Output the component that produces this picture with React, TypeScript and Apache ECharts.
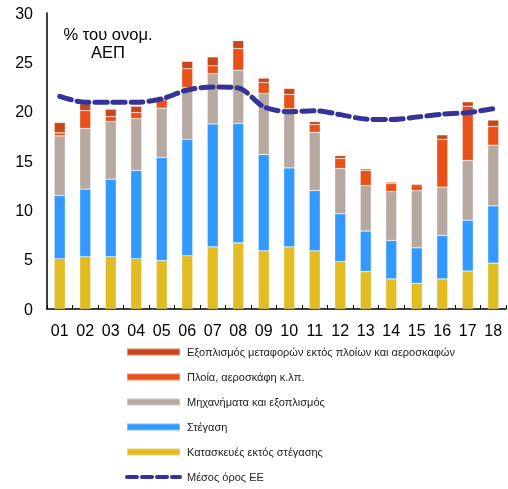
import React, { useEffect, useRef } from "react";
import * as echarts from "echarts";

const categories = ["01","02","03","04","05","06","07","08","09","10","11","12","13","14","15","16","17","18"];
const construction = [5.1, 5.3, 5.3, 5.1, 4.9, 5.4, 6.3, 6.7, 5.9, 6.3, 5.9, 4.8, 3.8, 3.05, 2.6, 3.05, 3.85, 4.65];
const housing = [6.4, 6.85, 7.85, 8.95, 10.45, 11.8, 12.45, 12.1, 9.75, 8.0, 6.1, 4.85, 4.1, 3.9, 3.6, 4.4, 5.15, 5.8];
const machinery = [6.05, 6.15, 5.85, 5.25, 5.0, 5.25, 5.1, 5.4, 6.2, 6.0, 5.9, 4.6, 4.6, 4.95, 5.8, 4.9, 6.05, 6.15];
const ships = [0.3, 1.8, 0.5, 0.6, 0.85, 1.9, 0.8, 2.2, 1.1, 1.45, 0.8, 1.0, 1.55, 0.8, 0.6, 4.85, 5.5, 1.9];
const transport = [1.05, 0.7, 0.75, 0.65, 0.2, 0.75, 0.9, 0.8, 0.45, 0.6, 0.3, 0.3, 0.15, 0.15, 0.1, 0.45, 0.45, 0.65];
const euAverage = [21.55, 20.95, 20.95, 20.95, 21.3, 22.2, 22.5, 22.4, 20.5, 20.0, 20.1, 19.7, 19.25, 19.2, 19.45, 19.75, 19.9, 20.3];

const names = {
  transport: "Εξοπλισμός μεταφορών εκτός πλοίων και αεροσκαφών",
  ships: "Πλοία, αεροσκάφη κ.λπ.",
  machinery: "Μηχανήματα και εξοπλισμός",
  housing: "Στέγαση",
  construction: "Κατασκευές εκτός στέγασης",
  eu: "Μέσος όρος ΕΕ",
};

const FONT = "Liberation Sans, Arial, sans-serif";

export default function App() {
  const ref = useRef<HTMLDivElement>(null);
  useEffect(() => {
    if (!ref.current) return;
    const chart = echarts.init(ref.current, null, { renderer: "svg" });
    const bar = (name: string, data: number[], color: string) => ({
      name,
      type: "bar",
      stack: "total",
      data,
      barWidth: 11,
      itemStyle: { color, borderColor: "rgba(255,255,255,0.35)", borderWidth: 0.6 },
    });
    chart.setOption({
      animation: false,
      textStyle: { fontFamily: FONT },
      grid: { left: 47, right: 2, top: 13, bottom: 180 },
      xAxis: {
        type: "category",
        data: categories,
        axisLine: { lineStyle: { color: "#000", width: 1.5 } },
        axisTick: { show: true, inside: true, length: 4, alignWithLabel: false, lineStyle: { color: "#000" } },
        axisLabel: { color: "#000", fontSize: 16, margin: 13 },
      },
      yAxis: {
        type: "value",
        min: 0,
        max: 30,
        interval: 5,
        axisLine: { show: true, lineStyle: { color: "#000", width: 1.5 } },
        axisTick: { show: false },
        splitLine: { show: false },
        axisLabel: { color: "#000", fontSize: 16, margin: 14 },
      },
      legend: {
        orient: "vertical",
        left: 125,
        top: 345,
        padding: 0,
        height: 144,
        itemWidth: 53,
        itemHeight: 7,
        itemGap: 11,
        textStyle: { fontSize: 11, color: "#222", lineHeight: 14, padding: [0, 0, 0, 2] },
        data: [
          { name: names.transport, icon: "rect" },
          { name: names.ships, icon: "rect" },
          { name: names.machinery, icon: "rect" },
          { name: names.housing, icon: "rect" },
          { name: names.construction, icon: "rect" },
          { name: names.eu, itemStyle: { opacity: 0 }, lineStyle: { width: 4, type: [10, 5], cap: "round" } },
        ],
      },
      graphic: [
        {
          type: "text",
          x: 108,
          y: 25,
          style: { text: "% του ονομ.", fontSize: 16.5, fill: "#000", fontFamily: FONT, align: "center" },
        },
        {
          type: "text",
          x: 108,
          y: 43,
          style: { text: "ΑΕΠ", fontSize: 16.5, fill: "#000", fontFamily: FONT, align: "center" },
        },
      ],
      series: [
        bar(names.construction, construction, "#E1BD23"),
        bar(names.housing, housing, "#3399FF"),
        bar(names.machinery, machinery, "#B7A9A1"),
        bar(names.ships, ships, "#E8511A"),
        bar(names.transport, transport, "#C8471A"),
        {
          name: names.eu,
          type: "line",
          data: euAverage,
          symbol: "none",
          smooth: 0.3,
          itemStyle: { color: "#333399" },
          lineStyle: { color: "#333399", width: 5, type: [12, 6], cap: "round" },
          z: 5,
        },
      ],
    });
    return () => chart.dispose();
  }, []);
  return <div ref={ref} style={{ position: "fixed", left: 0, top: 0, width: 508, height: 489 }} />;
}
